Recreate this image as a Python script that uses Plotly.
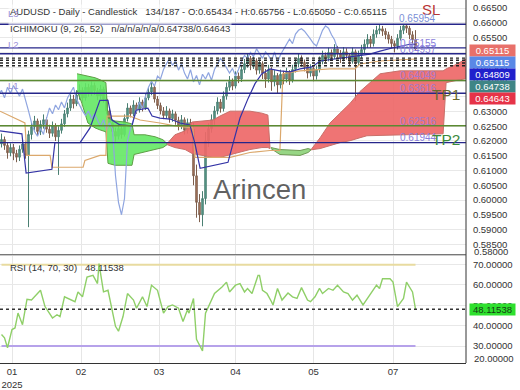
import plotly.graph_objects as go

# ---------------- data ----------------
opens = [0.6190,0.6205,0.6185,0.6160,0.6178,0.6158,0.6145,0.6172,0.6190,0.6152,
         0.6222,0.6248,0.6268,0.6232,0.6256,0.6272,0.6240,0.6226,0.6252,0.6214,
         0.6236,0.6258,0.6292,0.6312,0.6342,0.6326,0.6356,0.6372,0.6346,0.6382,
         0.6362,0.6388,0.6370,0.6352,0.6376,0.6342,0.6302,0.6262,0.6232,0.6216,
         0.6242,0.6222,0.6276,0.6312,0.6292,0.6322,0.6306,0.6332,0.6312,0.6346,
         0.6366,0.6382,0.6342,0.6320,0.6302,0.6286,0.6302,0.6276,0.6292,0.6270,
         0.6250,0.6272,0.6236,0.6262,0.6240,0.6082,0.5992,0.5950,0.6005,0.6200,
         0.6242,0.6272,0.6302,0.6332,0.6310,0.6352,0.6382,0.6402,0.6386,0.6420,
         0.6410,0.6442,0.6462,0.6480,0.6456,0.6472,0.6440,0.6462,0.6430,0.6410,
         0.6442,0.6400,0.6422,0.6390,0.6426,0.6410,0.6432,0.6406,0.6442,0.6462,
         0.6480,0.6466,0.6450,0.6430,0.6446,0.6420,0.6442,0.6470,0.6490,0.6480,
         0.6500,0.6486,0.6512,0.6496,0.6480,0.6502,0.6490,0.6470,0.6502,0.6466,
         0.6492,0.6510,0.6528,0.6545,0.6530,0.6562,0.6575,0.6580,0.6572,0.6560,
         0.6545,0.6530,0.6522,0.6548,0.6575,0.6590,0.6582,0.6560,0.65434]
closes = [0.6205,0.6185,0.6160,0.6178,0.6158,0.6145,0.6172,0.6190,0.6152,0.6222,
          0.6248,0.6268,0.6232,0.6256,0.6272,0.6240,0.6226,0.6252,0.6214,0.6236,
          0.6258,0.6292,0.6312,0.6342,0.6326,0.6356,0.6372,0.6346,0.6382,0.6362,
          0.6388,0.6370,0.6352,0.6376,0.6342,0.6302,0.6262,0.6232,0.6216,0.6242,
          0.6222,0.6276,0.6312,0.6292,0.6322,0.6306,0.6332,0.6312,0.6346,0.6366,
          0.6382,0.6342,0.6320,0.6302,0.6286,0.6302,0.6276,0.6292,0.6270,0.6250,
          0.6272,0.6236,0.6262,0.6240,0.6082,0.5992,0.5950,0.6005,0.6200,0.6242,
          0.6272,0.6302,0.6332,0.6310,0.6352,0.6382,0.6402,0.6386,0.6420,0.6410,
          0.6442,0.6462,0.6480,0.6456,0.6472,0.6440,0.6462,0.6430,0.6410,0.6442,
          0.6400,0.6422,0.6390,0.6426,0.6410,0.6432,0.6406,0.6442,0.6462,0.6480,
          0.6466,0.6450,0.6430,0.6446,0.6420,0.6442,0.6470,0.6490,0.6480,0.6500,
          0.6486,0.6512,0.6496,0.6480,0.6502,0.6490,0.6470,0.6502,0.6466,0.6492,
          0.6510,0.6528,0.6545,0.6530,0.6562,0.6575,0.6580,0.6572,0.6560,0.6545,
          0.6530,0.6522,0.6548,0.6575,0.6590,0.6582,0.6560,0.6543,0.65115]
highs = [0.6225,0.6215,0.6195,0.6192,0.6190,0.6170,0.6185,0.6210,0.6198,0.6235,
         0.6262,0.6285,0.6276,0.6270,0.6290,0.6280,0.6255,0.6266,0.6260,0.6250,
         0.6275,0.6305,0.6330,0.6358,0.6356,0.6372,0.6392,0.6382,0.6396,0.6394,
         0.6402,0.6398,0.6380,0.6390,0.6384,0.6350,0.6312,0.6272,0.6245,0.6258,
         0.6250,0.6290,0.6328,0.6320,0.6338,0.6330,0.6348,0.6340,0.6360,0.6380,
         0.6398,0.6388,0.6352,0.6330,0.6315,0.6318,0.6310,0.6306,0.6300,0.6282,
         0.6288,0.6280,0.6276,0.6275,0.6262,0.6120,0.6020,0.6030,0.6230,0.6260,
         0.6290,0.6318,0.6348,0.6342,0.6368,0.6398,0.6420,0.6412,0.6436,0.6432,
         0.6458,0.6478,0.6496,0.6488,0.6490,0.6480,0.6476,0.6470,0.6444,0.6458,
         0.6450,0.6440,0.6430,0.6442,0.6438,0.6448,0.6440,0.6458,0.6478,0.6496,
         0.6490,0.6476,0.6460,0.6460,0.6452,0.6456,0.6486,0.6506,0.6500,0.6516,
         0.6510,0.6528,0.6522,0.6508,0.6518,0.6514,0.6498,0.6516,0.6510,0.6506,
         0.6526,0.6544,0.6562,0.6556,0.6578,0.6590,0.6596,0.6590,0.6582,0.6570,
         0.6556,0.6540,0.6562,0.6590,0.6595,0.6595,0.6590,0.6572,0.65756]
lows = [0.6178,0.6170,0.6140,0.6148,0.6135,0.6128,0.6132,0.6160,0.6140,0.5908,
        0.6205,0.6236,0.6218,0.6220,0.6242,0.6228,0.6210,0.6215,0.6200,0.6085,
        0.6225,0.6248,0.6280,0.6302,0.6310,0.6318,0.6340,0.6330,0.6336,0.6350,
        0.6352,0.6356,0.6338,0.6342,0.6330,0.6290,0.6248,0.6215,0.6198,0.6205,
        0.6208,0.6215,0.6266,0.6280,0.6284,0.6292,0.6296,0.6300,0.6305,0.6338,
        0.6355,0.6330,0.6308,0.6290,0.6274,0.6275,0.6262,0.6265,0.6255,0.6236,
        0.6240,0.6222,0.6225,0.6228,0.6050,0.5940,0.5925,0.5911,0.5985,0.6180,
        0.6228,0.6255,0.6290,0.6296,0.6300,0.6340,0.6370,0.6372,0.6378,0.6396,
        0.6400,0.6430,0.6448,0.6440,0.6444,0.6425,0.6428,0.6410,0.6380,0.6398,
        0.6370,0.6385,0.6362,0.6378,0.6392,0.6398,0.6390,0.6398,0.6432,0.6450,
        0.6452,0.6436,0.6412,0.6418,0.6402,0.6408,0.6432,0.6460,0.6466,0.6470,
        0.6472,0.6478,0.6482,0.6464,0.6470,0.6476,0.6455,0.6462,0.6335,0.6455,
        0.6480,0.6498,0.6515,0.6516,0.6520,0.6550,0.6562,0.6556,0.6545,0.6530,
        0.6515,0.6500,0.6510,0.6540,0.6562,0.6566,0.6545,0.6530,0.65050]
bar_idx = list(range(len(closes)))
chikou_shift = 26

tenkan_x = [-0.5,6.8,8.2,12.8,16.8,17.8,26.2,29.5,32.8,35.5,36.8,39.5,43.5,44.8,48.8,50.2,52.8,56.2,
            59.5,62.8,64.5,66.2,75.5,76.8,79.5,82.2,84.5,86.8,89.5,92.8,96.2,99.5,103.5,106.2,111.2,
            116.2,119.5,122.8,126.2,131.2,136.2,138]
tenkan_y = [0.62343,0.62243,0.60910,0.60977,0.61043,0.61943,0.61943,0.62443,0.63377,0.63377,0.62710,
            0.62543,0.62510,0.63043,0.63110,0.62843,0.62777,0.62743,0.62610,0.62543,0.61900,0.61077,
            0.61277,0.61777,0.62777,0.63443,0.63943,0.64277,0.64443,0.64377,0.64343,0.64443,0.64510,
            0.64710,0.64777,0.64843,0.64877,0.64943,0.65043,0.65177,0.65277,0.65277]
kijun_x = [-0.5,4.5,7.8,8.5,16.2,16.8,27.2,27.8,32.8,34.8,35.2,42.8,46.2,52.8,57.8,63.8,64.5,76.2,
           82.8,89.5,92.8,93.8,99.5,109.5,117.8,119.5,126.2,138]
kijun_y = [0.63010,0.62777,0.62610,0.61510,0.61510,0.61110,0.61110,0.61343,0.61510,0.61510,0.62843,
           0.62843,0.62710,0.62610,0.62510,0.62443,0.61443,0.61443,0.61610,0.61677,0.61677,0.64277,
           0.64377,0.64443,0.64443,0.64610,0.64710,0.64777]

green1_x = [25.2,26.8,28.8,31.2,32.8,34.8,35.5,37.8,41.2,43.5,44.2,47.8,51.2,53.8,55.2]
green1_a = [0.64277,0.64243,0.64210,0.64143,0.64077,0.63977,0.62777,0.62677,0.62643,0.62577,
            0.62210,0.62210,0.62143,0.62043,0.61910]
green1_b = [0.63710,0.63277,0.62610,0.62443,0.62377,0.62310,0.61243,0.61177,0.61177,0.61177,
            0.61543,0.61610,0.61710,0.61777,0.61877]
red1_x = [55.2,57.8,61.2,63.5,70.5,72.8,76.2,82.8,86.8,88.8,89.5]
red1_b = [0.61910,0.62210,0.62343,0.62643,0.62710,0.62843,0.63010,0.63010,0.62943,0.62877,0.61777]
red1_a = [0.61877,0.61777,0.61710,0.61577,0.61443,0.61443,0.61543,0.61710,0.61777,0.61777,0.61743]
green2_x = [89.8,92.8,99.5,102.2,103.2]
green2_a = [0.61777,0.61710,0.61677,0.61743,0.61710]
green2_b = [0.61743,0.61543,0.61510,0.61610,0.61700]
red2_x = [103.2,106.2,109.5,112.8,116.2,119.5,121.8,126.2,132.8,147.2,148.2,151.2,154.8]
red2_b = [0.61710,0.62110,0.62610,0.62943,0.63277,0.63677,0.63877,0.64277,0.64377,0.64377,
          0.64443,0.64577,0.64777]
red2_a = [0.61700,0.61743,0.61843,0.61943,0.62010,0.62110,0.62177,0.62210,0.62210,0.62243,
          0.63977,0.64043,0.64110]

level_prices = [0.65954, 0.65155, 0.64957, 0.64049, 0.63616, 0.62516, 0.61944]
level_colors = ["#26268a", "#26268a", "#26268a", "#5b8a32", "#26268a", "#5b8a32", "#26268a"]
dotted_prices = [0.64809, 0.64738, 0.64643, 0.64550]

rsi_x = [0,1,2,3.5,4.5,5.5,7,8.5,10,11,13,14.5,17,18.5,19.5,21,23,24.5,25.5,27,28.5,30.5,32,32.5,34,
         35.5,38,39,40.5,42,44,45,47,48.5,50,52,54,55.5,57,59,60.5,62,62.5,64,65,67,68,69.5,71,73.5,
         75,76,78,79.5,81,82,83.5,85.5,86,87,88.5,90,90.5,92,93.5,95.5,97,98.5,100,102,103,104.5,
         106,107,109,110.5,112,114,115.5,117,118.5,120.5,123,125,126,127,129.5,130.5,132,134,135,137,138]
rsi_vals = [35.7,34.1,29.2,38.1,38.9,46.2,40.5,53.0,52.6,54.2,57.4,49.4,43.8,45.4,44.5,54.2,52.6,51.8,
            56.6,54.2,63.9,64.7,60.7,70.5,56.6,57.4,39.7,37.3,44.5,55.8,52.6,48.6,54.2,49.4,59.9,57.4,
            46.2,49.4,50.2,48.6,42.1,47.8,46.2,53.4,33.3,27.6,46.2,51.0,55.8,59.0,61.4,56.6,59.9,60.7,
            56.6,58.3,55.8,64.7,64.7,57.4,55.8,51.8,50.2,58.3,52.6,56.1,54.2,53.4,58.7,52.6,51.8,54.2,
            58.3,55.8,58.3,57.4,59.9,56.6,55.8,52.6,55.0,50.2,55.8,59.9,58.3,63.1,63.1,61.4,49.4,53.4,
            61.4,56.6,48.11538]
rsi_last = 48.11538
rsi_over, rsi_under = 70, 30

tick_pos = [3.5, 26.5, 52.5, 78, 104, 130.5]
tick_txt = ["01<br>2025", "02", "03", "04", "05", "07"]
price_ticks = [0.585 + 0.005 * k for k in range(17)]

# ---------------- figure ----------------
W, H = 520, 390
PW, PH = 466, 369
def pxx(x): return x / PW
def pxy(y): return (PH - y) / PH

FONT = "Liberation Sans, Arial, sans-serif"
fig = go.Figure()

def poly(xs, top, bot):
    return xs + xs[::-1], top + bot[::-1]

for xs, top, bot, fc, lc in [
    (green1_x, green1_a, green1_b, "rgba(100,232,100,0.9)", "#5e9e45"),
    (red1_x, red1_b, red1_a, "rgba(238,104,104,0.92)", "#c8706a"),
    (green2_x, green2_a, green2_b, "rgba(140,210,120,0.9)", "#6f9a55"),
    (red2_x, red2_b, red2_a, "rgba(238,104,104,0.92)", "#c8706a"),
]:
    px_, py_ = poly(xs, top, bot)
    fig.add_trace(go.Scatter(x=px_, y=py_, fill="toself", fillcolor=fc, mode="lines",
                             line=dict(color=lc, width=1), xaxis="x2", yaxis="y", hoverinfo="skip"))

fig.add_trace(go.Scatter(x=[i - chikou_shift for i in bar_idx], y=closes, mode="lines",
                         line=dict(color="#8fa5e0", width=1.2), xaxis="x2", yaxis="y", hoverinfo="skip"))
fig.add_trace(go.Scatter(x=kijun_x, y=kijun_y, mode="lines", line=dict(color="#dba86c", width=1.2),
                         xaxis="x2", yaxis="y", hoverinfo="skip"))
fig.add_trace(go.Scatter(x=tenkan_x, y=tenkan_y, mode="lines", line=dict(color="#3434a6", width=1.2),
                         xaxis="x2", yaxis="y", hoverinfo="skip"))
fig.add_trace(go.Candlestick(x=bar_idx, open=opens, high=highs, low=lows, close=closes,
                             xaxis="x2", yaxis="y", whiskerwidth=0, hoverinfo="skip",
                             increasing=dict(line=dict(color="#4a7f72", width=1), fillcolor="#5aa090"),
                             decreasing=dict(line=dict(color="#7d5e4c", width=1), fillcolor="#b37a5e")))

# RSI
fig.add_trace(go.Scatter(x=[bar_idx[0], bar_idx[-1]], y=[rsi_over, rsi_over], mode="lines",
                         line=dict(color="#e8dba0", width=2), xaxis="x", yaxis="y2", hoverinfo="skip"))
fig.add_trace(go.Scatter(x=[bar_idx[0], bar_idx[-1]], y=[rsi_under, rsi_under], mode="lines",
                         line=dict(color="#b6a2ea", width=2), xaxis="x", yaxis="y2", hoverinfo="skip"))
fig.add_trace(go.Scatter(x=rsi_x, y=rsi_vals, mode="lines", line=dict(color="#8fcf68", width=1.4),
                         xaxis="x", yaxis="y2", hoverinfo="skip"))

shapes = []
for p, c in zip(level_prices, level_colors):
    shapes.append(dict(type="line", xref="paper", yref="y", x0=0, x1=1, y0=p, y1=p,
                       line=dict(color=c, width=1.4)))
for p in dotted_prices:
    shapes.append(dict(type="line", xref="paper", yref="y", x0=0, x1=1, y0=p, y1=p,
                       line=dict(color="#222222", width=1.4, dash="dot")))
shapes.append(dict(type="line", xref="paper", yref="y2", x0=0, x1=1, y0=rsi_last, y1=rsi_last,
                   line=dict(color="#333333", width=1.6, dash="dot")))
# frame
shapes.append(dict(type="line", xref="paper", yref="paper", x0=1, x1=1, y0=0, y1=1,
                   line=dict(color="#333333", width=1)))
shapes.append(dict(type="line", xref="paper", yref="paper", x0=0, x1=1, y0=pxy(259), y1=pxy(259),
                   line=dict(color="#444444", width=1)))

ann = []
def txt(x, y, s, size=9.5, color="#333333", xanchor="center", bg=None, **kw):
    d = dict(x=pxx(x), y=pxy(y), xref="paper", yref="paper", text=s, showarrow=False,
             xanchor=xanchor, yanchor="middle", font=dict(size=size, color=color, family=FONT))
    if bg:
        d["bgcolor"] = bg
    d.update(kw)
    ann.append(d)

txt(8, 12, "AUDUSD - Daily - Candlestick&nbsp;&nbsp;&nbsp;134/187 - O:0.65434 - H:0.65756 - L:0.65050 - C:0.65115",
    xanchor="left", bg="rgba(255,255,255,0.55)")
txt(8, 29, "ICHIMOKU (9, 26, 52)&nbsp;&nbsp;&nbsp;n/a/n/a/n/a/0.64738/0.64643", xanchor="left",
    bg="rgba(255,255,255,0.55)")
txt(13, 14, "L3", size=9.5, color="#9a8fd8")
txt(13, 45, "L2", size=9.5, color="#9a8fd8")
txt(13, 87, "L1", size=9.5, color="#9a8fd8")
txt(431, 10, "SL", size=15, color="#b83434")
txt(417, 19, "0.65954", color="#7b8fd6", size=10)
txt(418, 44, "0.65155", color="#8a7fdc", size=10)
txt(418, 50, "0.64957", color="#8a7fdc", size=10)
txt(418, 77, "0.64049", color="#a27acc", size=10)
txt(418, 90, "0.63616", color="#a27acc", size=10)
txt(446, 96, "TP1", size=15.5, color="#6b6b2f")
txt(418, 123, "0.62516", color="#a27acc", size=10)
txt(418, 140, "0.61944", color="#8a7fdc", size=10)
txt(446, 142, "TP2", size=15.5, color="#3c8a3c")
txt(259, 193, "Arincen", size=27.5, color="rgba(70,70,70,0.85)")
txt(8, 272, "RSI (14, 70, 30)&nbsp;&nbsp;&nbsp;48.11538", xanchor="left")

# right-side boxes
for y, s, bg, fg in [(51, "0.65115", "#e8706a", "white"), (63.5, "0.65115", "#5a88e6", "white"),
                     (75.5, "0.64809", "#2020cc", "white"), (88, "0.64738", "#3f8585", "white"),
                     (100, "0.64643", "#e63348", "white"), (315, "48.11538", "#2ee02e", "#143c14")]:
    txt(469, y, s, size=9.5, color=fg, xanchor="left", bg=bg, width=45, height=11, borderpad=0)
txt(472, 256, "0.58000", xanchor="left")
txt(472, 364, "20.00000", xanchor="left")

axis_font = dict(size=9.5, color="#333333", family=FONT)
fig.update_layout(
    width=W, height=H, margin=dict(l=0, r=W - PW, t=0, b=H - PH),
    paper_bgcolor="white", plot_bgcolor="white", showlegend=False,
    font=dict(family=FONT),
    shapes=shapes, annotations=ann,
    xaxis=dict(domain=[0, 1], anchor="y2", range=[-0.5, 154.83], tickvals=tick_pos, ticktext=tick_txt,
               showgrid=True, gridcolor="#e6e6e6", zeroline=False, showline=True, linecolor="#333333",
               tickfont=axis_font, ticks="", rangeslider=dict(visible=False), fixedrange=True),
    xaxis2=dict(domain=[0, 1], anchor="y", matches="x", tickvals=tick_pos, showticklabels=False,
                showgrid=True, gridcolor="#e6e6e6", zeroline=False, ticks="",
                rangeslider=dict(visible=False)),
    yaxis=dict(domain=[pxy(258), 1], anchor="x2", side="right", range=[0.58177, 0.66777],
               tickvals=price_ticks, tickformat=".5f", showgrid=True, gridcolor="#e8e8e8",
               zeroline=False, tickfont=axis_font, ticks="outside", ticklen=4, tickcolor="white"),
    yaxis2=dict(domain=[0, pxy(260)], anchor="x", side="right", range=[21.69, 74.35],
                tickvals=[30, 40, 50, 60, 70], tickformat=".5f", showgrid=True, gridcolor="#e8e8e8",
                zeroline=False, tickfont=axis_font, ticks="outside", ticklen=4, tickcolor="white"),
)
fig.write_html("out.html", config={"displayModeBar": False},
               post_script="document.body.style.margin='0';document.body.style.overflow='hidden';")
